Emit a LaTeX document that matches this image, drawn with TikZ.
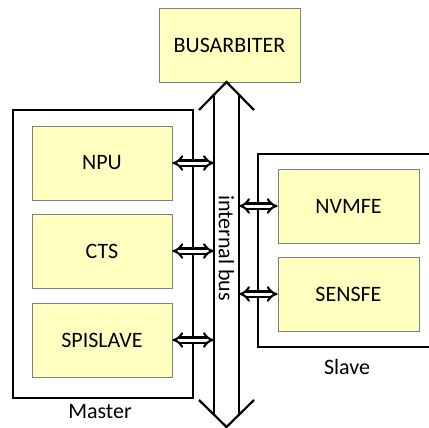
\documentclass[tikz,border=0pt]{standalone}
\usepackage{fontspec}
\setmainfont{Carlito}
\usetikzlibrary{arrows.meta}
\definecolor{boxfill}{HTML}{FFFFC0}
\definecolor{boxline}{HTML}{808080}
\begin{document}
\begin{tikzpicture}[x=1pt,y=-1pt,
  unit/.style={draw=boxline, line width=0.8pt, fill=boxfill, minimum width=140pt, minimum height=74pt, inner sep=0pt, font=\fontsize{22}{26}\selectfont},
  group/.style={draw=black, line width=2.6pt, inner sep=0pt},
  lbl/.style={font=\fontsize{22}{26}\selectfont, inner sep=0pt},
  link/.style={double, line width=2.1pt, double distance=3pt, {Implies[scale=1.1]}-{Implies[scale=1.1]}},
  busline/.style={line width=2.2pt, line join=miter}
]
\useasboundingbox (0,0) rectangle (429,428);
\begin{scope}
\clip (0,0) rectangle (429,428);
% groups
\node[group, minimum width=180pt, minimum height=288pt] (master) at (103,254) {};
\node[group, minimum width=202pt, minimum height=193pt] (slave) at (359,250.5) {};
% units
\node[unit, minimum width=141pt] (arb) at (229.5,45) {BUSARBITER};
\node[unit] (npu) at (102,163) {NPU};
\node[unit] (cts) at (102,251) {CTS};
\node[unit] (spi) at (102,340) {SPISLAVE};
\node[unit, minimum width=141pt] (nvm) at (348.5,206) {NVMFE};
\node[unit, minimum width=141pt] (sens) at (348.5,294) {SENSFE};
% bus
\node[inner sep=0pt, minimum width=25pt, minimum height=320pt] (bus) at (226.5,255) {};
\coordinate (ttip) at (226.5,82);
\coordinate (btip) at (226.5,427);
\draw[busline] (199,110) -- (ttip) -- (254,110);
\draw[busline] (199,400) -- (btip) -- (254,400);
\draw[busline] (214,94.7) -- (214,414.3);
\draw[busline] (239,94.7) -- (239,414.3);
\node[lbl, rotate=-90] (buslbl) at (226.5,248) {internal bus};
% links
\draw[link] (npu.east) -- (npu.east -| bus.west);
\draw[link] (cts.east) -- (cts.east -| bus.west);
\draw[link] (spi.east) -- (spi.east -| bus.west);
\draw[link] (nvm.west -| bus.east) -- (nvm.west);
\draw[link] (sens.west -| bus.east) -- (sens.west);
% labels
\node[lbl] (masterlbl) at (100,412) {Master};
\node[lbl] (slavelbl) at (347,367) {Slave};
\end{scope}
\end{tikzpicture}
\end{document}
